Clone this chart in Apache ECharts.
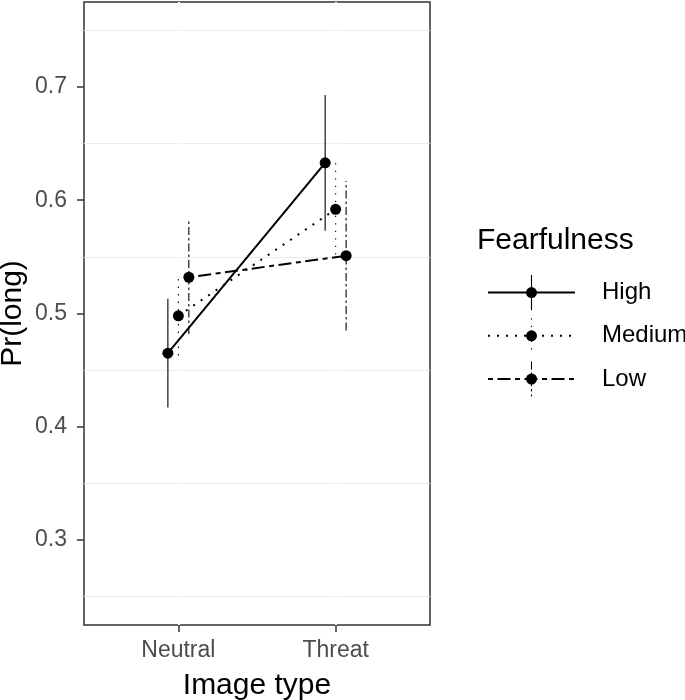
<!DOCTYPE html>
<html>
<head>
<meta charset="utf-8">
<script src="https://cdn.jsdelivr.net/npm/echarts@6/dist/echarts.min.js"></script>
<style>
html, body { margin: 0; padding: 0; background: #fff; }
#chart { width: 685px; height: 700px; }
</style>
</head>
<body>
<div id="chart"></div>
<script>
// Pr(long) by image type, split by fearfulness: dodged means + error bars
const imageTypes = ['Neutral', 'Threat'];
const groups = ['High', 'Medium', 'Low'];
const meanHigh = [0.465, 0.633];
const meanMedium = [0.498, 0.592];
const meanLow = [0.532, 0.551];
const lowerHigh = [0.417, 0.573];
const upperHigh = [0.513, 0.693];
const lowerMedium = [0.463, 0.552];
const upperMedium = [0.531, 0.635];
const lowerLow = [0.482, 0.485];
const upperLow = [0.582, 0.617];
const yBreaks = [0.3, 0.4, 0.5, 0.6, 0.7];
const yMinorBreaks = [0.25, 0.35, 0.45, 0.55, 0.65, 0.75];
const yLimits = [0.25, 0.75];

const means = [meanHigh, meanMedium, meanLow];
const lowers = [lowerHigh, lowerMedium, lowerLow];
const uppers = [upperHigh, upperMedium, upperLow];

// linetypes: solid / dotted / twodash
const lineDash = [null, [2, 7], [5, 4.5, 13, 4.5]];
const barDash = [null, [1.3, 6.2], [8, 3, 2.5, 3]];

const dodgeWidth = 0.2;
const dodge = (i) => (i - (groups.length - 1) / 2) * dodgeWidth / groups.length;
const yPad = (yLimits[1] - yLimits[0]) * 0.05;

// legend key glyph: point + vertical error bar in the group's linetype (box 0..32, drawn at 1.1x)
function keyGlyph(dash) {
  let d = 'path://M0 0L0.001 0M32 32L32.001 32';
  const segs = [];
  if (!dash) {
    segs.push([0, 32]);
  } else {
    let y = 0, k = 0;
    while (y < 32) {
      const len = dash[k % dash.length] / 1.1;
      if (k % 2 === 0) segs.push([y, Math.min(y + len, 32)]);
      y += len;
      k++;
    }
  }
  segs.forEach(([a, b]) => { d += `M15.5 ${a}L16.5 ${a}L16.5 ${b}L15.5 ${b}Z`; });
  d += 'M16 11A5 5 0 1 1 16 21A5 5 0 1 1 16 11Z';
  return d;
}

const series = [];

// minor grid lines (major ones are blanked in the original theme)
series.push({
  type: 'line', name: '_grid', data: [], z: 1, silent: true,
  markLine: {
    z: 1, symbol: 'none', silent: true, animation: false, label: { show: false },
    lineStyle: { color: '#ebebeb', width: 1.2, type: 'solid' },
    data: yMinorBreaks.map((v) => ({ yAxis: v }))
  }
});
series.push({
  type: 'line', name: '_gridx', data: [], z: 2, silent: true,
  markLine: {
    z: 2, symbol: 'none', silent: true, animation: false, label: { show: false },
    lineStyle: { color: '#ffffff', width: 2, type: 'solid' },
    data: imageTypes.map((t, k) => ({ xAxis: k + 1 }))
  }
});

groups.forEach((g, i) => {
  const pts = imageTypes.map((t, k) => [k + 1 + dodge(i), means[i][k]]);
  const bars = imageTypes.map((t, k) => [k + 1 + dodge(i), lowers[i][k], uppers[i][k]]);
  series.push({
    type: 'custom', name: g + ' bars', z: 3,
    data: bars,
    encode: { x: 0, y: [1, 2] },
    renderItem: (params, api) => {
      const x = api.value(0);
      const a = api.coord([x, api.value(1)]);
      const b = api.coord([x, api.value(2)]);
      return {
        type: 'line',
        shape: { x1: a[0], y1: a[1], x2: b[0], y2: b[1] },
        style: { stroke: '#000', lineWidth: 1.1, lineDash: barDash[i] }
      };
    }
  });
  series.push({
    type: 'line', name: g + ' points', z: 4,
    data: pts,
    symbol: 'circle', symbolSize: 11,
    itemStyle: { color: '#000' },
    lineStyle: { color: '#000', width: 2, type: lineDash[i] || 'solid' }
  });
  // legend-only entry
  series.push({
    type: 'line', name: g, data: [],
    symbol: keyGlyph(barDash[i]),
    itemStyle: { color: '#000' },
    lineStyle: { color: '#000', width: 2, type: lineDash[i] || 'solid' }
  });
});

const chart = echarts.init(document.getElementById('chart'), null, { renderer: 'canvas' });
chart.setOption({
  animation: false,
  backgroundColor: '#fff',
  textStyle: { fontFamily: 'Liberation Sans, Arial, sans-serif' },
  title: {
    text: 'Fearfulness', left: 477, top: 226, padding: 0,
    textStyle: { fontSize: 30, fontWeight: 'normal', color: '#000', fontFamily: 'Liberation Sans, Arial, sans-serif' }
  },
  legend: {
    data: groups, orient: 'vertical', left: 487, top: 275, padding: 0,
    itemWidth: 87, itemHeight: 44, itemGap: 8,
    selectedMode: false,
    textStyle: { fontSize: 24, color: '#000', padding: [0, 0, 0, 22] }
  },
  grid: {
    left: 84, top: 2, right: 255, bottom: 75,
    outerBoundsMode: 'none', containLabel: false,
    show: true, borderColor: '#333333', borderWidth: 1.5, backgroundColor: '#fff'
  },
  xAxis: {
    type: 'value',
    min: 1 - 0.6, max: imageTypes.length + 0.6,
    name: 'Image type', nameLocation: 'middle', nameGap: 46, nameMoveOverlap: false,
    nameTextStyle: { fontSize: 30, color: '#000' },
    axisLine: { show: false },
    axisTick: { show: true, length: 7, customValues: imageTypes.map((t, k) => k + 1),
      lineStyle: { color: '#333333', width: 1.5 } },
    axisLabel: { customValues: imageTypes.map((t, k) => k + 1), margin: 14,
      fontSize: 23, color: '#4d4d4d',
      formatter: (v) => imageTypes[Math.round(v) - 1] || '' },
    splitLine: { show: false }
  },
  yAxis: {
    type: 'value',
    min: yLimits[0] - yPad, max: yLimits[1] + yPad,
    name: 'Pr(long)', nameLocation: 'middle', nameGap: 56, nameRotate: 90, nameMoveOverlap: false,
    nameTextStyle: { fontSize: 30, color: '#000' },
    axisLine: { show: false },
    axisTick: { show: true, length: 7, customValues: yBreaks,
      lineStyle: { color: '#333333', width: 1.5 } },
    axisLabel: { customValues: yBreaks, margin: 17, fontSize: 23, color: '#4d4d4d',
      formatter: (v) => v.toFixed(1) },
    splitLine: { show: false }
  },
  series: series
});
</script>
</body>
</html>
